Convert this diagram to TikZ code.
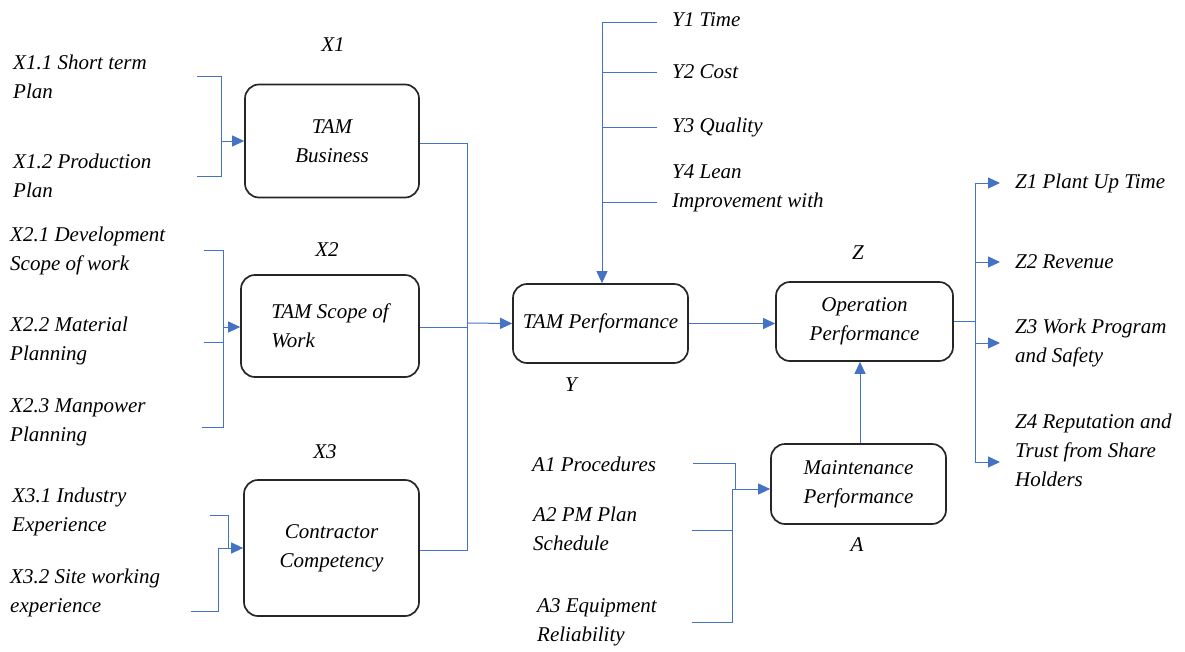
\documentclass[tikz,border=0pt]{standalone}
\usepackage{fontspec}
\setmainfont{Liberation Serif}
\usetikzlibrary{arrows.meta}
\definecolor{lineblue}{RGB}{68,114,196}
\tikzset{
  box/.style={draw=black!85, line width=1.7pt, rounded corners=14pt, inner sep=0pt, align=center, font=\itshape\fontsize{21}{29}\selectfont},
  lbl/.style={font=\itshape\fontsize{21}{29}\selectfont, align=left, anchor=west, inner sep=0pt},
  tag/.style={font=\itshape\fontsize{21}{29}\selectfont, inner sep=0pt},
  conn/.style={draw=lineblue, line width=1pt},
  arr/.style={conn, -{Triangle[length=12pt,width=11pt]}},
}
\begin{document}
\begin{tikzpicture}[x=1pt,y=-1pt]
\useasboundingbox (0,0) rectangle (1185,651);
% boxes
\node[box, minimum width=174pt, minimum height=113pt] (x1) at (332,141) {TAM\\Business};
\node[box, minimum width=178pt, minimum height=102pt, align=left] (x2) at (330,326) {TAM Scope of\\Work};
\node[box, minimum width=175pt, minimum height=136pt] (x3) at (331.5,548) {Contractor\\Competency};
\node[box, minimum width=175pt, minimum height=79pt] (y) at (600.5,323.5) {TAM Performance};
\node[box, minimum width=177pt, minimum height=79pt] (z) at (864.5,321.5) {Operation\\Performance};
\node[box, minimum width=175pt, minimum height=80pt] (a) at (858.5,484) {Maintenance\\Performance};
% tags
\node[tag] (tx1) at (333,45) {X1};
\node[tag] (tx2) at (327,250) {X2};
\node[tag] (tx3) at (325,452) {X3};
\node[tag] (ty) at (571,385) {Y};
\node[tag] (tz) at (858,253) {Z};
\node[tag] (ta) at (857,545) {A};
% left labels
\node[lbl] (x11) at (13,77) {X1.1 Short term\\Plan};
\node[lbl] (x12) at (13,176) {X1.2 Production\\Plan};
\node[lbl] (x21) at (10,251) {X2.1 Development\\Scope of work};
\node[lbl] (x22) at (10,341) {X2.2 Material\\Planning};
\node[lbl] (x23) at (10,422) {X2.3 Manpower\\Planning};
\node[lbl] (x31) at (12,512) {X3.1 Industry\\Experience};
\node[lbl] (x32) at (10,593) {X3.2 Site working\\experience};
% Y labels
\node[lbl] (y1) at (672,20) {Y1 Time};
\node[lbl] (y2) at (672,72) {Y2 Cost};
\node[lbl] (y3) at (672,127) {Y3 Quality};
\node[lbl] (y4) at (672,188) {Y4 Lean\\Improvement with};
% Z labels
\node[lbl] (z1) at (1015,183) {Z1 Plant Up Time};
\node[lbl] (z2) at (1015,262) {Z2 Revenue};
\node[lbl] (z3) at (1015,343) {Z3 Work Program\\and Safety};
\node[lbl] (z4) at (1015,450) {Z4 Reputation and\\Trust from Share\\Holders};
% A labels
\node[lbl] (a1) at (532,464) {A1 Procedures};
\node[lbl] (a2) at (533,529) {A2 PM Plan\\Schedule};
\node[lbl] (a3) at (537,622) {A3 Equipment\\Reliability};
% coordinates
\coordinate (b11) at (197,76);
\coordinate (b12) at (197,176);
\coordinate (j1) at (221,141);
\coordinate (b21) at (204,250);
\coordinate (b22) at (204,342);
\coordinate (b23) at (202,427);
\coordinate (j2) at (223,327);
\coordinate (b31) at (210,515);
\coordinate (b32) at (191,611);
\coordinate (j3) at (228,548);
\coordinate (bus) at (467,323);
\coordinate (yt1) at (657,22);
\coordinate (yt2) at (657,72);
\coordinate (yt3) at (657,127);
\coordinate (yt4) at (657,202);
\coordinate (ybar) at (602,22);
\coordinate (zbar) at (975,321.5);
\coordinate (zt1) at (1000,183);
\coordinate (zt2) at (1000,262);
\coordinate (zt3) at (1000,343);
\coordinate (zt4) at (1000,462);
\coordinate (ab1) at (693,463);
\coordinate (ab2) at (692,530);
\coordinate (ab3) at (692,622);
\coordinate (ja) at (733,489);
% X1 bracket
\draw[conn] (b11) -- ++(24,0) |- (b12);
\draw[arr] (j1) -- (j1 -| x1.west);
% X2 bracket
\draw[conn] (b21) -- ++(19,0) |- (b23);
\draw[conn] (b22) -- ++(19,0);
\draw[arr] (j2) -- (j2 -| x2.west);
% X3
\draw[conn] (b31) -| (j3);
\draw[conn] (b32) -| (218,548) -- (j3);
\draw[arr] (j3) -- (j3 -| x3.west);
% bus
\draw[conn] (x1.east |- 0,143) -| (bus |- 0,550) -- (x3.east |- 0,550);
\draw[conn] (x2.east |- 0,327) -- (bus |- 0,327);
\draw[arr] (bus) -- (y.west);
% Y
\draw[arr] (ybar) -- (ybar |- y.north);
\draw[conn] (ybar) -- (yt1);
\draw[conn] (yt2 -| ybar) -- (yt2);
\draw[conn] (yt3 -| ybar) -- (yt3);
\draw[conn] (yt4 -| ybar) -- (yt4);
% Y to Z
\draw[arr] (y.east) -- (y.east -| z.west);
% A
\draw[conn] (ab1) -| (735,489);
\draw[conn] (ab2) -- (732,530);
\draw[conn] (ab3) -| (732,489);
\draw[arr] (ja) -- (ja -| a.west);
\draw[arr] (a.north -| 860,0) -- (z.south -| 860,0);
% Z
\draw[conn] (z.east) -- (zbar);
\draw[conn] (zbar |- zt1) -- (zbar |- zt4);
\draw[arr] (zbar |- zt1) -- (zt1);
\draw[arr] (zbar |- zt2) -- (zt2);
\draw[arr] (zbar |- zt3) -- (zt3);
\draw[arr] (zbar |- zt4) -- (zt4);
\end{tikzpicture}
\end{document}
